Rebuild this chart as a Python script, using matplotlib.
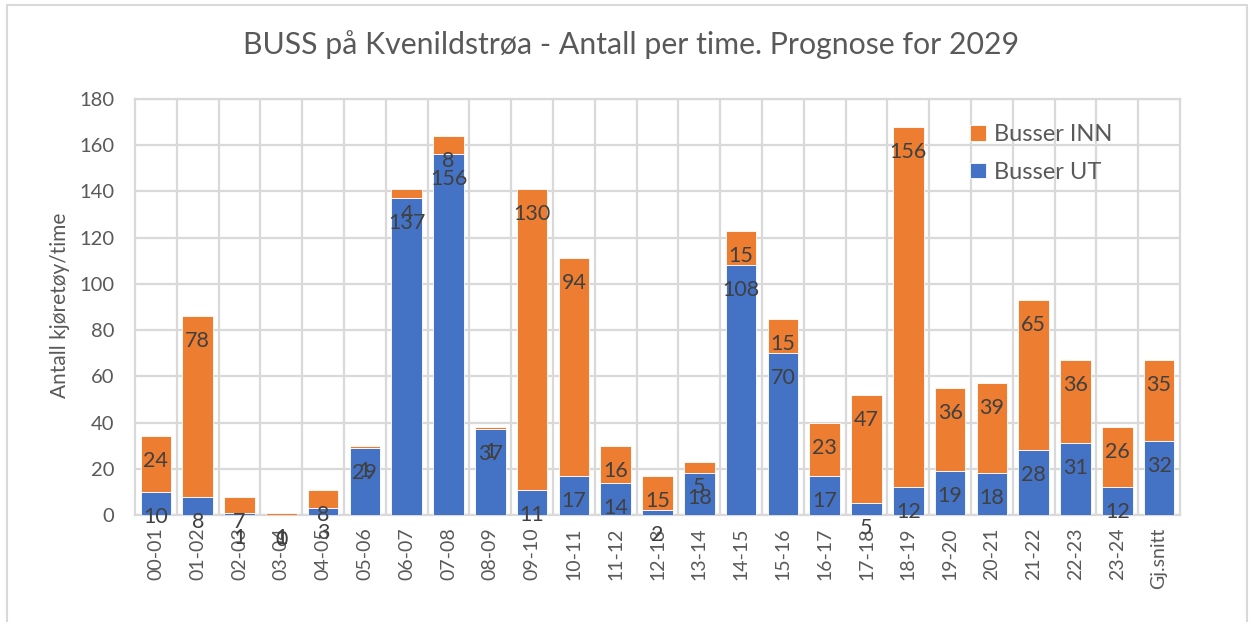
import matplotlib.pyplot as plt
from matplotlib.patches import Rectangle

# Data
hours = ["00-01", "01-02", "02-03", "03-04", "04-05", "05-06", "06-07", "07-08",
         "08-09", "09-10", "10-11", "11-12", "12-13", "13-14", "14-15", "15-16",
         "16-17", "17-18", "18-19", "19-20", "20-21", "21-22", "22-23", "23-24",
         "Gj.snitt"]
busser_ut = [10, 8, 1, 0, 3, 29, 137, 156, 37, 11, 17, 14, 2, 18, 108, 70,
             17, 5, 12, 19, 18, 28, 31, 12, 32]
busser_inn = [24, 78, 7, 1, 8, 1, 4, 8, 1, 130, 94, 16, 15, 5, 15, 15,
              23, 47, 156, 36, 39, 65, 36, 26, 35]

blue = "#4472C4"
orange = "#ED7D31"
grid = "#D9D9D9"
txt = "#595959"
lbl = "#404040"

plt.rcParams["font.family"] = ["Lato", "DejaVu Sans"]

fig = plt.figure(figsize=(12.54, 6.22), dpi=100)
ax = fig.add_axes([135 / 1254, 1 - 515 / 622, 1045 / 1254, 416 / 622])

x = list(range(len(hours)))
b_ut = ax.bar(x, busser_ut, width=0.73, color=blue, edgecolor="white",
              linewidth=0.6, label="Busser UT", zorder=3)
b_inn = ax.bar(x, busser_inn, width=0.73, bottom=busser_ut, color=orange,
               edgecolor="white", linewidth=0.6, label="Busser INN", zorder=3)

# data labels: "inside end" of each segment
for i in x:
    top_ut = busser_ut[i]
    top_inn = busser_ut[i] + busser_inn[i]
    ax.annotate(str(busser_ut[i]), xy=(i, top_ut), xytext=(0, -25),
                textcoords="offset pixels", ha="center", va="center",
                fontsize=15.5, color=lbl, zorder=5)
    ax.annotate(str(busser_inn[i]), xy=(i, top_inn), xytext=(0, -25),
                textcoords="offset pixels", ha="center", va="center",
                fontsize=15.5, color=lbl, zorder=5)

ax.set_xlim(-0.5, len(hours) - 0.5)
ax.set_ylim(0, 180)
ax.set_yticks(range(0, 181, 20))
ax.set_xticks(x)
ax.set_xticklabels(hours, rotation=90, fontsize=14, color=txt)
ax.set_xticks([i + 0.5 for i in x[:-1]], minor=True)
ax.tick_params(axis="y", length=0, pad=15, labelsize=14.5, labelcolor=txt)
ax.tick_params(axis="x", which="both", length=0, pad=9)

ax.grid(axis="y", color=grid, linewidth=1.6, zorder=0)
ax.grid(axis="x", which="minor", color=grid, linewidth=1.6, zorder=0)
ax.grid(axis="x", which="major", visible=False)
for s in ax.spines.values():
    s.set_color(grid)
    s.set_linewidth(1.6)

fig.text(60 / 1254, 1 - 305 / 622, "Antall kjøretøy/time", rotation=90,
         ha="center", va="center", fontsize=15, color=txt)
fig.text(631 / 1254, 1 - 45 / 622,
         "BUSS på Kvenildstrøa - Antall per time. Prognose for 2029",
         ha="center", va="center", fontsize=21.8, color=txt)

ax.legend(handles=[b_inn, b_ut], loc="upper left",
          bbox_to_anchor=(949 / 1254, 1 - 103 / 622),
          bbox_transform=fig.transFigure, frameon=False, fontsize=17,
          handlelength=0.65, handleheight=0.65, handletextpad=0.35,
          labelspacing=0.7, labelcolor=txt)

fig.patches.append(Rectangle((7 / 1254, -0.1), 1240 / 1254, 1.1 - 5 / 622,
                             transform=fig.transFigure, fill=False,
                             edgecolor=grid, linewidth=1.5))

fig.savefig("out.png", dpi=100)
